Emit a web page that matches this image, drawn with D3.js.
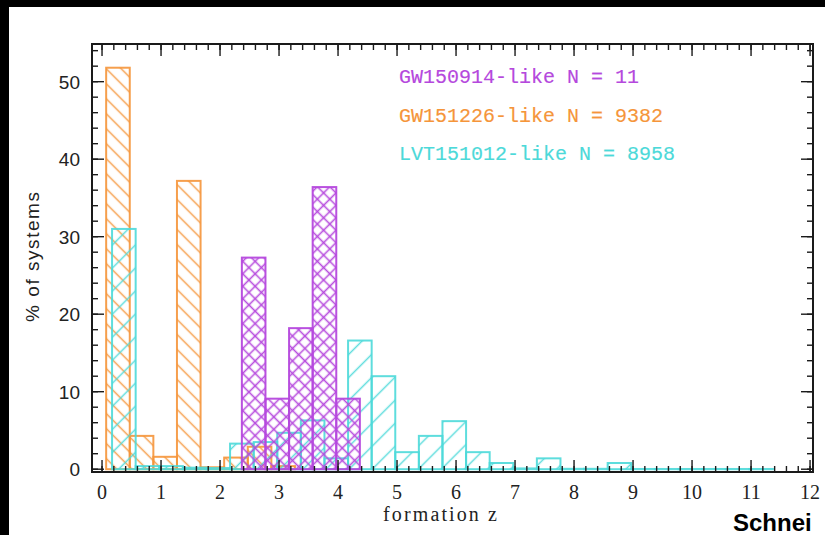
<!DOCTYPE html>
<html><head><meta charset="utf-8">
<script src="https://cdn.jsdelivr.net/npm/d3@7/dist/d3.min.js"></script>
<style>html,body{margin:0;padding:0;background:#fff;overflow:hidden}</style>
</head><body>
<svg id="c" width="825" height="535"></svg>
<script>
// ---- data ----
const binWidth = 0.4;
const orangeStarts = [0.07,0.47,0.87,1.27,1.67,2.07,2.47,2.87];
const orangeValues = [51.8,4.3,1.6,37.2,0.25,1.5,2.9,0.4];
const cyanStarts = [0.17,0.57,0.97,1.37,1.77,2.17,2.57,2.97,3.37,3.77,4.17,4.57,4.97,5.37,5.77,6.17,6.57,6.97,7.37,7.77,8.17,8.57,8.97,9.37,9.77,10.17,10.57,10.97];
const cyanValues = [31.0,0.4,0.4,0.2,0.15,3.3,3.5,4.7,6.3,1.4,16.6,12.0,2.2,4.3,6.2,2.2,0.8,0.1,1.4,0.05,0.05,0.8,0.03,0.03,0.03,0.03,0.03,0.03];
const purpleStarts = [2.37,2.77,3.17,3.57,3.97];
const purpleValues = [27.3,9.1,18.2,36.4,9.1];
const xTickLabels = ["0","1","2","3","4","5","6","7","8","9","10","11","12"];
const yTickLabels = ["0","10","20","30","40","50"];
const legendLabels = ["GW150914-like N = 11","GW151226-like N = 9382","LVT151012-like N = 8958"];

const colors = {purple:"#b548dd", orange:"#f5953a", cyan:"#4cd9d9"};

const svg = d3.select("#c");
// black borders (image framing)
svg.append("rect").attr("x",0).attr("y",0).attr("width",825).attr("height",7).attr("fill","#000");
svg.append("rect").attr("x",0).attr("y",0).attr("width",9).attr("height",535).attr("fill","#000");

const L=92, R=813, T=44, B=472;
const x = d3.scaleLinear().domain([-0.17,12.05]).range([L,R]);
const y = d3.scaleLinear().domain([-0.36,54.86]).range([B,T]);

const defs = svg.append("defs");
function hatch(id, color, spacing, angle, w){
  const p = defs.append("pattern").attr("id",id).attr("patternUnits","userSpaceOnUse")
    .attr("width",spacing).attr("height",spacing).attr("patternTransform",`rotate(${angle})`);
  p.append("line").attr("x1",spacing/2).attr("y1",-1).attr("x2",spacing/2).attr("y2",spacing+1)
    .attr("stroke",color).attr("stroke-width",w);
}
hatch("hO", colors.orange, 10.6, -45, 1.5);
hatch("hC", colors.cyan, 16.3, 45, 1.5);
hatch("hP1", colors.purple, 8.8, 45, 1.6);
hatch("hP2", colors.purple, 8.8, -45, 1.6);

const clip = defs.append("clipPath").attr("id","plotclip");
clip.append("rect").attr("x",L).attr("y",T).attr("width",R-L).attr("height",B-T);

const g = svg.append("g").attr("clip-path","url(#plotclip)");
function drawSeries(starts, values, color, fills, op){
  const data = starts.map((s,i)=>({s, v:values[i]}));
  fills.forEach(f=>{
    g.append("g").selectAll("rect").data(data).join("rect")
      .attr("x",d=>x(d.s)).attr("width",d=>x(d.s+binWidth)-x(d.s))
      .attr("y",d=>y(d.v)).attr("height",d=>y(0)-y(d.v))
      .attr("fill",`url(#${f})`).attr("opacity",op);
  });
  g.append("g").selectAll("rect").data(data).join("rect")
    .attr("x",d=>x(d.s)).attr("width",d=>x(d.s+binWidth)-x(d.s))
    .attr("y",d=>y(d.v)).attr("height",d=>y(0)-y(d.v))
    .attr("fill","none").attr("stroke",color).attr("stroke-width",2).attr("opacity",op);
}
drawSeries(orangeStarts, orangeValues, colors.orange, ["hO"], 0.9);
drawSeries(cyanStarts, cyanValues, colors.cyan, ["hC"], 0.9);
drawSeries(purpleStarts, purpleValues, colors.purple, ["hP1","hP2"], 0.95);

// axes: frame + inward ticks
const axisColor="#1a1a1a";
const majX = d3.range(0,13,1), minX = d3.range(0,12.05,0.2);
const majY = d3.range(0,51,10), minY = d3.range(0,54.9,2);
const ax = svg.append("g").attr("stroke",axisColor).attr("stroke-width",1.4);
ax.append("rect").attr("x",L).attr("y",T).attr("width",R-L).attr("height",B-T).attr("fill","none").attr("stroke-width",2);
minX.forEach(v=>{const X=x(v);
  ax.append("line").attr("x1",X).attr("x2",X).attr("y1",B).attr("y2",B-6);
  ax.append("line").attr("x1",X).attr("x2",X).attr("y1",T).attr("y2",T+6);});
majX.forEach(v=>{const X=x(v);
  ax.append("line").attr("x1",X).attr("x2",X).attr("y1",B).attr("y2",B-12);
  ax.append("line").attr("x1",X).attr("x2",X).attr("y1",T).attr("y2",T+12);});
minY.forEach(v=>{const Y=y(v);
  ax.append("line").attr("x1",L).attr("x2",L+6).attr("y1",Y).attr("y2",Y);
  ax.append("line").attr("x1",R).attr("x2",R-6).attr("y1",Y).attr("y2",Y);});
majY.forEach(v=>{const Y=y(v);
  ax.append("line").attr("x1",L).attr("x2",L+12).attr("y1",Y).attr("y2",Y);
  ax.append("line").attr("x1",R).attr("x2",R-12).attr("y1",Y).attr("y2",Y);});

// tick labels
svg.append("g").selectAll("text").data(xTickLabels).join("text")
  .attr("x",(d,i)=>x(majX[i])).attr("y",499).attr("text-anchor","middle")
  .attr("font-family","Liberation Serif").attr("font-size",20).attr("fill","#222").text(d=>d);
svg.append("g").selectAll("text").data(yTickLabels).join("text")
  .attr("x",80).attr("y",(d,i)=>y(majY[i])+7).attr("text-anchor","end")
  .attr("font-family","Liberation Sans").attr("font-size",19).attr("fill","#222").text(d=>d);

// axis titles
svg.append("text").attr("x",383).attr("y",521)
  .attr("font-family","Liberation Serif").attr("font-size",20).attr("fill","#222")
  .attr("textLength",114).attr("lengthAdjust","spacing").text("formation z");
svg.append("text").attr("transform","translate(39,322) rotate(-90)")
  .attr("font-family","Liberation Sans").attr("font-size",19).attr("fill","#222")
  .attr("textLength",130).attr("lengthAdjust","spacing").text("% of systems");

// legend
const legColors=[colors.purple, colors.orange, colors.cyan];
svg.append("g").selectAll("text").data(legendLabels).join("text")
  .attr("x",399).attr("y",(d,i)=>83+i*38.5)
  .attr("font-family","Liberation Mono").attr("font-size",20).attr("fill",(d,i)=>legColors[i])
  .attr("stroke",(d,i)=>legColors[i]).attr("stroke-width",0.15).text(d=>d);

// credit
svg.append("text").attr("x",733).attr("y",531).attr("font-family","Liberation Sans").attr("font-weight","bold")
  .attr("font-size",24).attr("fill","#000").text("Schnei");
</script>
</body></html>
